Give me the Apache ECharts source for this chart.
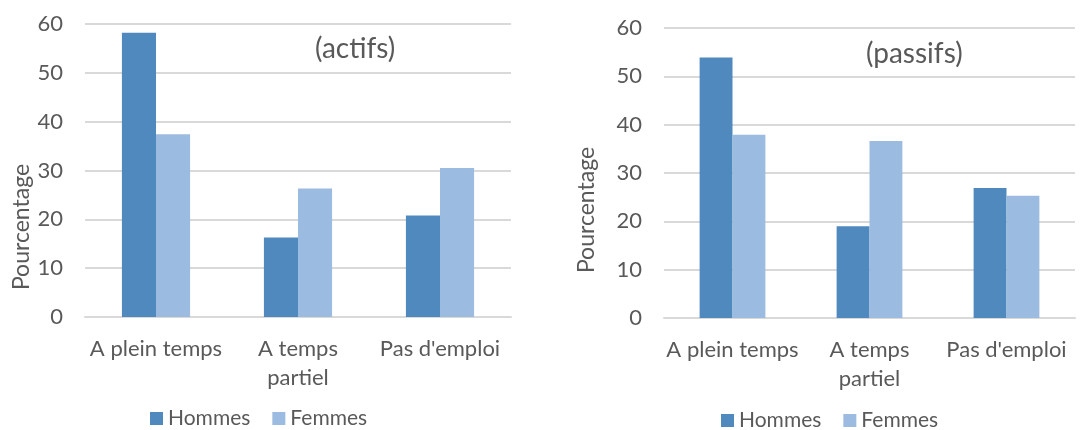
<!DOCTYPE html>
<html>
<head>
<meta charset="utf-8">
<script src="https://cdn.jsdelivr.net/npm/echarts@6/dist/echarts.min.js"></script>
<style>
  html, body { margin: 0; padding: 0; background: #fff; }
  #chart { width: 1091px; height: 430px; }
</style>
</head>
<body>
<div id="chart"></div>
<script>
const categories = ["A plein temps", "A temps\npartiel", "Pas d'emploi"]
const seriesNames = ["Hommes", "Femmes"]
const actifsHommes = [58.2, 16.3, 20.8]
const actifsFemmes = [37.4, 26.3, 30.5]
const passifsHommes = [53.9, 19.0, 26.9]
const passifsFemmes = [37.9, 36.6, 25.3]
const yTicks = { min: 0, max: 60, interval: 10 }

const textColor = "#595959"
const gridColor = "#d9d9d9"
const colors = ["#4f89bd", "#9bbbe0"]
const font = "Lato"

const chart = echarts.init(document.getElementById("chart"))

const makeXAxis = gridIndex => ({
	type: "category",
	gridIndex,
	data: categories,
	axisTick: { show: false },
	axisLine: { lineStyle: { color: gridColor, width: 2 } },
	axisLabel: {
		interval: 0,
		color: textColor,
		fontFamily: font,
		fontSize: 22,
		lineHeight: 29,
		margin: 17,
	},
})

const makeYAxis = gridIndex => ({
	type: "value",
	gridIndex,
	min: yTicks.min,
	max: yTicks.max,
	interval: yTicks.interval,
	axisLine: { show: false },
	axisTick: { show: false },
	axisLabel: {
		color: textColor,
		fontFamily: font,
		fontSize: 22,
		margin: 22,
	},
	splitLine: { lineStyle: { color: gridColor, width: 2 } },
})

const makeBar = (name, data, axisIndex, color) => ({
	name,
	type: "bar",
	data,
	xAxisIndex: axisIndex,
	yAxisIndex: axisIndex,
	barGap: "0%",
	barCategoryGap: "52%",
	itemStyle: { color },
})

const legendStyle = {
	data: seriesNames,
	icon: "rect",
	padding: 0,
	itemWidth: 13,
	itemHeight: 13,
	itemGap: 22,
	textStyle: { color: textColor, fontFamily: font, fontSize: 21 },
}

const yName = (x, y) => ({
	type: "text",
	x,
	y,
	rotation: Math.PI / 2,
	style: {
		text: "Pourcentage",
		fill: textColor,
		font: `23px ${font}`,
		align: "center",
		verticalAlign: "middle",
	},
})

chart.setOption({
	animation: false,
	title: [
		{ text: "(actifs)", left: 310, top: 30, textStyle: { color: textColor, fontFamily: font, fontSize: 28, fontWeight: "normal" } },
		{ text: "(passifs)", left: 861, top: 35, textStyle: { color: textColor, fontFamily: font, fontSize: 28, fontWeight: "normal" } },
	],
	legend: [
		Object.assign({ left: 150, top: 408 }, legendStyle),
		Object.assign({ left: 721, top: 410 }, legendStyle),
	],
	grid: [
		{ left: 85, width: 426, top: 24, bottom: 113 },
		{ left: 664, width: 411, top: 28, bottom: 112 },
	],
	xAxis: [makeXAxis(0), makeXAxis(1)],
	yAxis: [makeYAxis(0), makeYAxis(1)],
	series: [
		makeBar(seriesNames[0], actifsHommes, 0, colors[0]),
		makeBar(seriesNames[1], actifsFemmes, 0, colors[1]),
		makeBar(seriesNames[0], passifsHommes, 1, colors[0]),
		makeBar(seriesNames[1], passifsFemmes, 1, colors[1]),
	],
	graphic: [yName(22, 227), yName(587, 210)],
})
</script>
</body>
</html>
